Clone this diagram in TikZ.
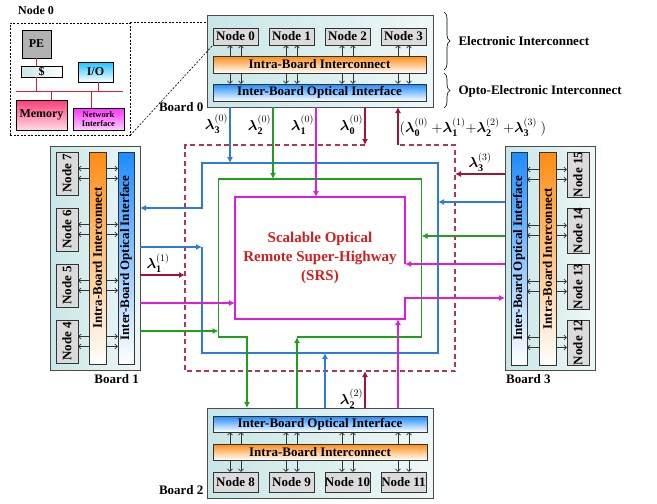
\documentclass[tikz,border=0pt]{standalone}
\usepackage{amsmath, amssymb}
\usepackage{fontspec}
\setmainfont{Liberation Serif}
\usetikzlibrary{positioning, arrows.meta, decorations.pathreplacing}

\definecolor{lnblue}{RGB}{45,125,215}
\definecolor{lngreen}{RGB}{30,160,30}
\definecolor{lnmag}{RGB}{220,30,220}
\definecolor{lnred}{RGB}{160,20,60}
\definecolor{srsred}{RGB}{210,30,30}
\definecolor{brdfill}{RGB}{200,230,230}
\definecolor{intraor}{RGB}{255,140,20}
\definecolor{interbl}{RGB}{30,140,255}
\definecolor{buscol}{RGB}{220,30,50}

\newcommand{\wavel}[2]{$\boldsymbol{\lambda}_{\mathbf{#1}}^{(#2)}$}

\begin{document}
\begin{tikzpicture}[
    x=1pt, y=-1pt,
    font=\bfseries\fontsize{13}{15}\selectfont,
    board/.style={draw=black!70, line width=0.8pt, left color=brdfill, right color=brdfill!30!white, inner sep=0pt, outer sep=0pt},
    pc/.style={draw=black!80, fill=gray!28, inner sep=0pt, minimum width=45pt, minimum height=17pt},
    pcv/.style={pc, minimum width=22pt, minimum height=43pt},
    intra/.style={draw=black!80, top color=intraor, bottom color=white, inner sep=0pt},
    inter/.style={draw=black!80, top color=interbl, bottom color=white, inner sep=0pt},
    ring/.style={inner sep=0pt, outer sep=0pt},
    part/.style={draw=black, inner sep=0pt, font=\bfseries\fontsize{12}{13}\selectfont},
    bus/.style={draw=buscol, line width=0.9pt},
    zoomline/.style={black, line width=0.6pt, dash pattern=on 2pt off 1.5pt},
    tick/.style={-{Straight Barb[length=2.5pt,width=5pt]}, line width=0.6pt, black!80},
    ln/.style={line width=1.2pt},
    edge/.style={ln, -{Latex[length=6pt,width=6pt]}},
    lbl/.style={inner sep=1.5pt, font=\bfseries\fontsize{14.5}{16}\selectfont}
]
\useasboundingbox (0,0) rectangle (657,504);

% zoom of node 0
\node[zoomline, draw, minimum width=120pt, minimum height=112pt, inner sep=0pt] (zm) at (70,79) {};
\node[font=\bfseries\fontsize{12}{13}\selectfont] (zlbl) at (36,10) {Node 0};
\node[part, fill=gray!60, minimum width=29pt, minimum height=28pt] (pe) at (36.5,44) {PE};
\node[part, left color=brdfill, right color=white, minimum width=41pt, minimum height=11pt] (cache) at (41.5,71.5) {\$};
\node[part, top color=cyan!75!blue!90, bottom color=white, minimum width=35pt, minimum height=20pt] (io) at (95.5,72) {I/O};
\node[part, top color={rgb,255:red,255;green,60;blue,120}, bottom color={rgb,255:red,255;green,220;blue,230}, minimum width=51pt, minimum height=30pt] (mem) at (41.5,115) {Memory};
\node[part, top color={rgb,255:red,255;green,50;blue,255}, bottom color={rgb,255:red,255;green,205;blue,255}, minimum width=51pt, minimum height=22pt, align=center, font=\bfseries\fontsize{8.5}{9.5}\selectfont] (ni) at (98.5,119) {Network\\Interface};
\coordinate (busL) at (16,91);
\coordinate (busR) at (123,91);
\draw[bus] (busL) -- (busR);
\draw[bus] (pe.south) -- (pe.south |- cache.north);
\draw[bus] (pe.south |- cache.south) -- (pe.south |- busL);
\draw[bus] ([xshift=2.5pt]io.south) -- ([xshift=2.5pt]io.south |- busL);
\draw[bus] ([xshift=10pt]mem.north |- busL) -- ([xshift=10pt]mem.north);
\draw[bus] ([xshift=-7.5pt]ni.north |- busL) -- ([xshift=-7.5pt]ni.north);

% boards
\node[board, minimum width=226pt, minimum height=92pt] (b0) at (320,61) {};
\node[board, minimum width=226pt, minimum height=90pt] (b2) at (320,453) {};
\node[board, minimum width=90pt, minimum height=224pt] (b1) at (95,258) {};
\node[board, minimum width=90pt, minimum height=224pt] (b3) at (550,258) {};

\node[anchor=east] (lb0) at (b0.south west) {Board 0};
\node[anchor=north east, inner sep=1pt] (lb1) at ([yshift=-3pt]b1.south east) {Board 1};
\node[anchor=south east] (lb2) at (b2.south west) {Board 2};
\node[anchor=north west, inner sep=1pt] (lb3) at ([yshift=-3pt]b3.south west) {Board 3};

% board 0
\foreach \i in {0,...,3} {
    \node[pc] (n\i) at (235.5+56*\i, 36.5) {Node \i};
}
\node[intra, minimum width=213pt, minimum height=17pt] (ia0) at (319.5,64.5) {Intra-Board Interconnect};
\node[inter, minimum width=213pt, minimum height=17pt] (ib0) at (319.5,92.5) {Inter-Board Optical Interface};
\foreach \i in {0,...,3} {
    \foreach \d in {-5.5,5.5} {
        \draw[tick] ([xshift=\d pt]n\i.south |- ia0.north) -- ([xshift=\d pt]n\i.south);
        \draw[tick] ([xshift=\d pt]n\i.south |- ia0.south) -- ([xshift=\d pt]n\i.south |- ib0.north);
    }
}

% board 2
\foreach \i in {8,...,11} {
    \node[pc, minimum height=20pt] (n\i) at (235.5+56*\i-448, 482) {Node \i};
}
\node[inter, minimum width=214pt, minimum height=16pt] (ib2) at (320,424) {Inter-Board Optical Interface};
\node[intra, minimum width=214pt, minimum height=16pt] (ia2) at (320,452) {Intra-Board Interconnect};
\foreach \i in {8,...,11} {
    \foreach \d in {-5.5,5.5} {
        \draw[tick] ([xshift=\d pt]n\i.north |- ia2.south) -- ([xshift=\d pt]n\i.north);
        \draw[tick] ([xshift=\d pt]n\i.north |- ia2.north) -- ([xshift=\d pt]n\i.north |- ib2.south);
    }
}

% board 1
\foreach \i in {0,...,3} {
    \pgfmathtruncatemacro\k{7-\i}
    \node[pcv] (n\k) at (67, 173.5+56*\i) {\rotatebox{90}{Node \k}};
}
\node[intra, minimum width=17pt, minimum height=212pt] (ia1) at (97.5,258) {\rotatebox{90}{Intra-Board Interconnect}};
\node[inter, minimum width=16pt, minimum height=212pt] (ib1) at (126,258) {\rotatebox{90}{Inter-Board Optical Interface}};
\foreach \k in {4,...,7} {
    \foreach \d in {-5,5} {
        \draw[tick] ([yshift=\d pt]n\k.east -| ia1.west) -- ([yshift=\d pt]n\k.east);
        \draw[tick] ([yshift=\d pt]n\k.east -| ia1.east) -- ([yshift=\d pt]n\k.east -| ib1.west);
    }
}

% board 3
\foreach \i in {0,...,3} {
    \pgfmathtruncatemacro\k{15-\i}
    \node[pcv] (n\k) at (578, 174.5+56*\i) {\rotatebox{90}{Node \k}};
}
\node[inter, minimum width=16pt, minimum height=213pt] (ib3) at (519,258.5) {\rotatebox{90}{Inter-Board Optical Interface}};
\node[intra, minimum width=17pt, minimum height=213pt] (ia3) at (547.5,258.5) {\rotatebox{90}{Intra-Board Interconnect}};
\foreach \k in {12,...,15} {
    \foreach \d in {-5,5} {
        \draw[tick] ([yshift=\d pt]n\k.west -| ia3.east) -- ([yshift=\d pt]n\k.west);
        \draw[tick] ([yshift=\d pt]n\k.west -| ia3.west) -- ([yshift=\d pt]n\k.west -| ib3.east);
    }
}

% zoom lines
\draw[zoomline] (zm.north east) -- (zm.north east -| b0.west);
\draw[zoomline] (zm.south east) -- (n0.south west);

% braces
\draw[decorate, decoration={brace, amplitude=6pt}, line width=0.6pt] (444,12) -- (444,70);
\draw[decorate, decoration={brace, amplitude=6pt}, line width=0.6pt] (444,73) -- (444,108);
\node[anchor=west] (elab) at (455,41) {Electronic Interconnect};
\node[anchor=west] (olab) at (455,91) {Opto-Electronic Interconnect};

% rings
\node[ring, minimum width=270pt, minimum height=226pt] (rr) at (320,258) {};
\node[ring, minimum width=236pt, minimum height=190pt] (br) at (320,258) {};
\node[ring, minimum width=203pt, minimum height=158pt] (gr) at (320,258) {};
\node[ring, minimum width=170pt, minimum height=122pt, align=center, text=srsred,
      font=\bfseries\fontsize{15}{19}\selectfont] (mr) at (320,258) {Scalable Optical\\Remote Super-Highway\\(SRS)};

\draw[ln, lnred!85!white, dash pattern=on 5pt off 3.5pt] ([xshift=45pt]rr.north) -- (rr.north west) -- (rr.south west)
    -- (rr.south east) -- (rr.north east) -- ([xshift=78pt]rr.north);
\draw[edge, lnblue] ([yshift=11pt]br.west) -- (br.south west) -- (br.south east) -- (br.north east)
    -- (br.north west) -- ([yshift=50pt]br.west) -- ([yshift=50pt]br.west -| b1.east);
\draw[edge, lngreen] ([xshift=-23pt]gr.south) -- (gr.south east) -- (gr.north east) -- (gr.north west)
    -- (gr.south west) -- ([xshift=-73pt]gr.south) -- ([xshift=-73pt]gr.south |- b2.north);
\draw[edge, lnmag] ([yshift=-6pt]mr.east) -- (mr.north east) -- (mr.north west) -- (mr.south west)
    -- (mr.south east) -- ([yshift=-40pt]mr.east) -- ([yshift=-40pt]mr.east -| b3.west);

% board 0 links
\draw[edge, lnblue] ([xshift=-90pt]b0.south) -- node[pos=0.3, left, lbl, black] (l30) {\wavel{3}{0}} ([xshift=-90pt]b0.south |- br.north);
\draw[edge, lngreen] ([xshift=-47pt]b0.south) -- node[pos=0.25, left, lbl, black] (l20) {\wavel{2}{0}} ([xshift=-47pt]b0.south |- gr.north);
\draw[edge, lnmag] ([xshift=-4pt]b0.south) -- node[pos=0.2, left, lbl, black] (l10) {\wavel{1}{0}} ([xshift=-4pt]b0.south |- mr.north);
\draw[edge, lnred] ([xshift=45pt]b0.south) -- node[pos=0.47, left, lbl, black] (l00) {\wavel{0}{0}} ([xshift=45pt]b0.south |- rr.north);
\draw[edge, lnred] ([xshift=78pt]rr.north) -- node[pos=0.47, right, lbl, inner sep=1pt, black] (lsum)
    {$(\boldsymbol{\lambda}_{\mathbf{0}}^{(0)}\ {+}\boldsymbol{\lambda}_{\mathbf{1}}^{(1)}{+}\boldsymbol{\lambda}_{\mathbf{2}}^{(2)}\ {+}\boldsymbol{\lambda}_{\mathbf{3}}^{(3)}\ )$}
    ([xshift=78pt]rr.north |- b0.south);

% board 1 links
\draw[edge, lnblue] ([yshift=11pt]b1.east) -- ([yshift=11pt]b1.east -| br.west);
\draw[edge, lnred] ([yshift=-17pt]b1.east) -- node[pos=0.4, above, lbl, black] (l11) {\wavel{1}{1}} ([yshift=-17pt]b1.east -| rr.west);
\draw[edge, lnmag] ([yshift=-45pt]b1.east) -- ([yshift=-45pt]b1.east -| mr.west);
\draw[edge, lngreen] ([yshift=-73pt]b1.east) -- ([yshift=-73pt]b1.east -| gr.west);

% board 3 links
\draw[edge, lnred] ([yshift=84pt]b3.west) -- node[midway, above, lbl, black] (l33) {\wavel{3}{3}} ([yshift=84pt]b3.west -| rr.east);
\draw[edge, lnblue] ([yshift=56pt]b3.west) -- ([yshift=56pt]b3.west -| br.east);
\draw[edge, lngreen] ([yshift=22pt]b3.west) -- ([yshift=22pt]b3.west -| gr.east);
\draw[edge, lnmag] ([yshift=-6pt]b3.west) -- ([yshift=-6pt]b3.west -| mr.east);

% board 2 links
\draw[edge, lngreen] ([xshift=-23pt]b2.north) -- ([xshift=-23pt]b2.north |- gr.south);
\draw[edge, lnblue] ([xshift=5pt]b2.north) -- ([xshift=5pt]b2.north |- br.south);
\draw[edge, lnred] ([xshift=45pt]b2.north) -- node[pos=0.25, left, lbl, black] (l22) {\wavel{2}{2}} ([xshift=45pt]b2.north |- rr.south);
\draw[edge, lnmag] ([xshift=78pt]b2.north) -- ([xshift=78pt]b2.north |- mr.south);

\end{tikzpicture}
\end{document}
